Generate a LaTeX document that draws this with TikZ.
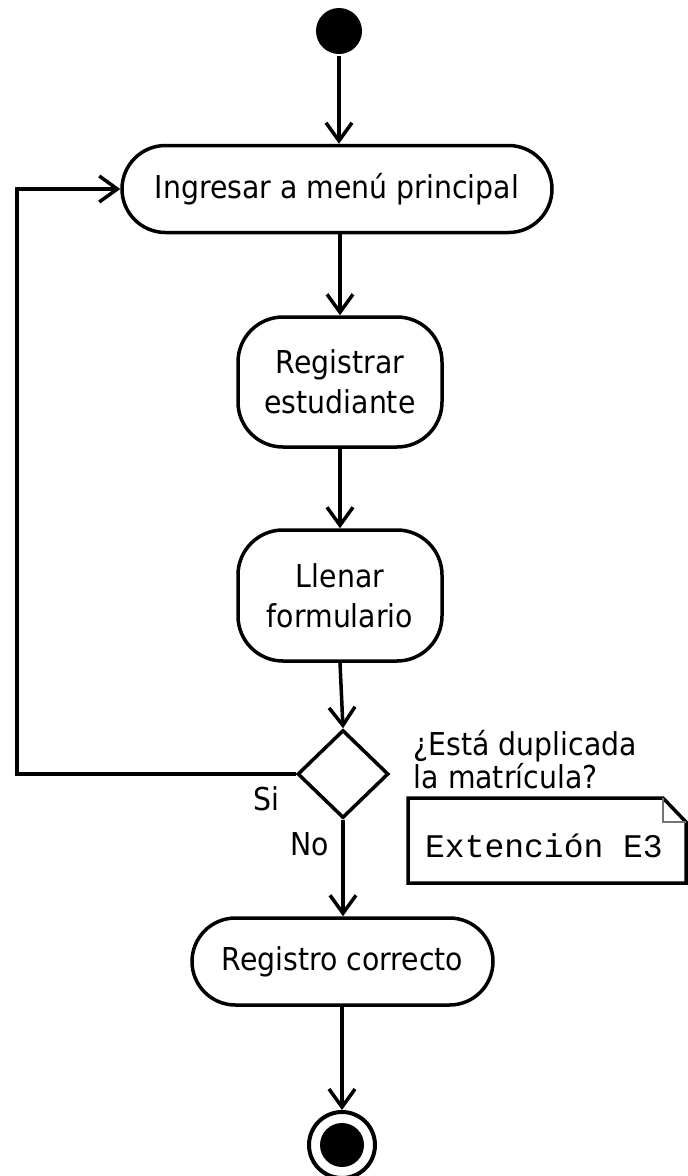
\documentclass[tikz,border=0pt]{standalone}
\usepackage{fontspec}
\setmainfont{DejaVu Sans}[FakeStretch=0.9]
\setmonofont{Liberation Mono}
\usetikzlibrary{arrows.meta,shapes.geometric}

\begin{document}
\begin{tikzpicture}[x=1pt,y=-1pt,
  line width=3.5pt,
  flow/.style={-{Straight Barb[length=18pt,width=26pt]}},
  txt/.style={font=\fontsize{31.5}{40}\selectfont},
  act/.style={draw, txt, align=center, inner sep=0pt},
  dot/.style={circle, fill=black, draw=none, inner sep=0pt},
  choice/.style={diamond, draw, inner sep=0pt, minimum width=91pt, minimum height=88pt},
  notebox/.style={draw, line width=3.5pt, line join=miter},
  fold/.style={draw=black!55, line width=1.5pt}
]
\useasboundingbox (0,0) rectangle (688,1176);

% activities
\node[dot, minimum size=46pt] (start) at (339,31) {};
\node[act, minimum width=430pt, minimum height=87pt, rounded corners=43.5pt] (menu) at (337,189) {Ingresar a menú principal};
\node[act, minimum width=204pt, minimum height=130pt, rounded corners=45pt] (reg) at (340,382) {Registrar\\estudiante};
\node[act, minimum width=204pt, minimum height=131pt, rounded corners=45pt] (form) at (340,595.5) {Llenar\\formulario};
\node[choice] (dup) at (343,774) {};
\node[act, minimum width=301pt, minimum height=87pt, rounded corners=43.5pt] (ok) at (342.5,961.5) {Registro correcto};
\node[circle, draw, line width=4pt, minimum size=66pt, inner sep=0pt] (endo) at (342,1145) {};
\node[dot, minimum size=44pt] (endi) at (endo.center) {};

% flow
\draw[flow] (start) -- (start |- menu.north);
\draw[flow] (menu.south -| reg.north) -- (reg.north);
\draw[flow] (reg) -- (form);
\draw[flow] (form.south) -- (dup.north);
\coordinate (lb) at (17,774);
\coordinate (lt) at (17,189);
\draw[flow] (dup.west) -- (lb) -- (lt) -- (menu.west);
\draw[flow] (dup.south) -- (dup.south |- ok.north);
\draw[flow] (ok.south -| endo.north) -- (endo.north);

% guards and question
\node[txt, anchor=base] (si) at (266,810) {Si};
\node[txt, anchor=base] (no) at (310,855) {No};
\node[txt, anchor=base west, inner sep=0pt] (q1) at (412,755) {¿Está duplicada};
\node[txt, anchor=base west, inner sep=0pt] (q2) at (412,788) {la matrícula?};

% note
\draw[notebox] (408,798) -- (663,798) -- (686,822) -- (686,883) -- (408,883) -- cycle;
\draw[fold] (663,798) -- (663,822) -- (686,822);
\node[font=\ttfamily\fontsize{33}{33}\selectfont, anchor=base] (ext) at (544,857) {Extención E3};
\end{tikzpicture}
\end{document}
